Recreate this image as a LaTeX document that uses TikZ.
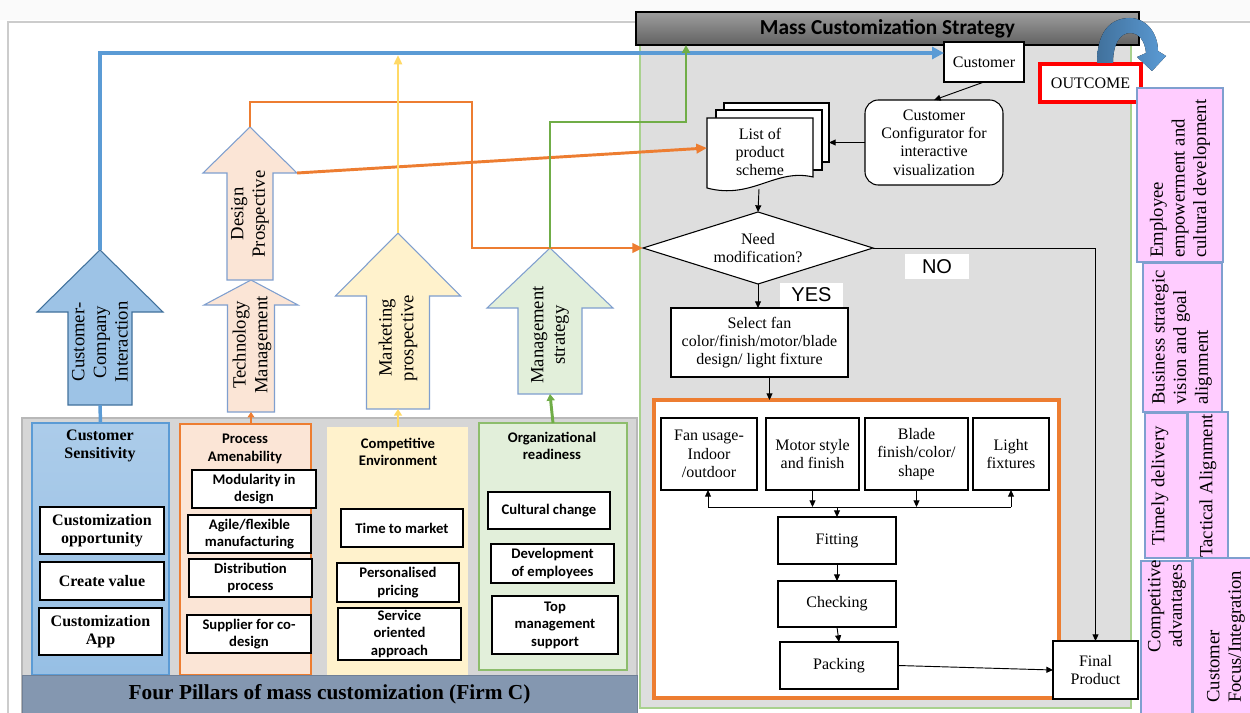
\documentclass[tikz,border=0pt]{standalone}
\usepackage{fontspec}
\setmainfont{Liberation Serif}
\newfontfamily\calib{Carlito}
\newfontfamily\arialf{Liberation Sans}
\usetikzlibrary{arrows.meta,calc}

\definecolor{cBlue}{HTML}{5B9BD5}
\definecolor{cBlueDk}{HTML}{41719C}
\definecolor{cOrange}{HTML}{ED7D31}
\definecolor{cYellow}{HTML}{FFD966}
\definecolor{cGreen}{HTML}{70AD47}
\definecolor{cGreenLt}{HTML}{A9D18E}
\definecolor{fBlue}{HTML}{9DC3E6}
\definecolor{fPeach}{HTML}{FBE5D6}
\definecolor{fCream}{HTML}{FFF2CC}
\definecolor{fMint}{HTML}{E2EFDA}
\definecolor{fPink}{HTML}{FFCCFF}
\definecolor{eSlate}{HTML}{7F9FCF}
\definecolor{panelR}{HTML}{DEDEDE}
\definecolor{panelL}{HTML}{D6D6D6}
\definecolor{bandC}{HTML}{8497B0}
\definecolor{cRed}{HTML}{FF0000}

\newcommand\fTimes{\fontsize{12}{13.8}\selectfont}
\newcommand\fTimesL{\fontsize{14}{16.2}\selectfont}
\newcommand\fTimesB{\bfseries\fontsize{12}{13.6}\selectfont}
\newcommand\fCal{\calib\bfseries\fontsize{11}{13.2}\selectfont}

% rectangle node from its corners (pixel grid): [style]{name}{x1}{y1}{x2}{y2}{text}
\newcommand\rbox[7][]{\node[#1, minimum width={(#5-#3)*0.75pt}, minimum height={(#6-#4)*0.75pt}] (#2) at ({(#3+#5)/2},{(#4+#6)/2}) {#7};}
% upward block arrow: {style}{cx}{shaft half width}{head half width}{tip y}{head base y}{bottom y}
\newcommand\blockup[7]{\draw[#1] ({#2-#3},#7) -- ({#2-#3},#6) -- ({#2-#4},#6) -- (#2,#5) -- ({#2+#4},#6) -- ({#2+#3},#6) -- ({#2+#3},#7) -- cycle;}

\begin{document}
\begin{tikzpicture}[x=0.75pt,y=-0.75pt,
  box/.style={draw=black, fill=white, line width=0.9pt, align=center, inner sep=1pt, outer sep=0pt},
  plain/.style={inner sep=0pt, outer sep=0pt, align=center},
  flow/.style={draw=black, line width=0.7pt, -{Triangle[length=5pt,width=4.5pt]}},
  flowline/.style={draw=black, line width=0.7pt},
  bluec/.style={draw=cBlue, line width=2.6pt},
  orangec/.style={draw=cOrange, line width=2.2pt},
  yellowc/.style={draw=cYellow, line width=2pt},
  greenc/.style={draw=cGreen, line width=2.2pt},
  pinkbox/.style={draw=eSlate, fill=fPink, line width=0.8pt, outer sep=0pt},
  rtext/.style={rotate=90, align=center, font=\fTimesL, inner sep=0pt},
  pillar/.style={line width=0.9pt, outer sep=0pt},
  ptitle/.style={align=center, inner sep=0pt},
  cbox/.style={box, font=\fCal},
  tbox/.style={box, font=\fTimesB},
  fbox/.style={box, font=\fTimes, line width=0.8pt},
  lbl/.style={fill=white, font=\arialf\fontsize{15}{16}\selectfont, inner sep=0pt, outer sep=0pt}
]
\useasboundingbox (0,0) rectangle (1250,713);
\clip (0,0) rectangle (1250,713);

% page background and frame
\fill[white] (0,0) rectangle (1250,713);
\fill[black!2] (0,0) rectangle (1250,20);
\draw[black!20, line width=0.8pt] (8,713) -- (8,22) -- (1250,22);

% ---------------- strategy panel ----------------
\rbox[fill=panelR, draw=cGreenLt, line width=1pt, outer sep=0pt]{mcs}{640}{45}{1131}{708}{}
\rbox[draw=black, line width=0.9pt, top color=black!38, bottom color=black!62, outer sep=0pt,
      font=\calib\bfseries\fontsize{16}{18}\selectfont]{hdr}{636}{12}{1139}{45}{Mass Customization Strategy}

% ---------------- pillars panel ----------------
\rbox[fill=panelL, draw=black!28, line width=0.9pt, outer sep=0pt]{pillars}{22}{418}{637}{713}{}
\rbox[pillar, draw=cBlue, top color=fBlue!85!white, bottom color=fBlue!90!cBlue]{cs}{32}{423}{169}{675}{}
\rbox[pillar, draw=cOrange, fill=fPeach]{pa}{180}{424}{311}{675}{}
\rbox[pillar, draw=none, fill=fCream]{ce}{327}{427}{468}{675}{}
\rbox[pillar, draw=cGreen!80, fill=fMint]{org}{479}{423}{627}{670}{}
\rbox[fill=bandC, draw=bandC!85!black, line width=0.6pt, outer sep=0pt,
      font=\bfseries\fontsize{16}{18}\selectfont]{band}{22}{675}{637}{713}{Four Pillars of mass customization (Firm C)}

\node[ptitle, font=\fTimesB] (csT) at (100,446) {Customer\\Sensitivity};
\node[ptitle, font=\fCal] (paT) at (245,449) {Process\\Amenability};
\node[ptitle, font=\fCal] (ceT) at (398,452) {Competitive\\Environment};
\node[ptitle, font=\fCal] (orgT) at (552,446) {Organizational\\readiness};

\rbox[tbox]{cs1}{40}{507}{164}{554}{Customization\\opportunity}
\rbox[tbox]{cs2}{40}{562}{164}{600}{Create value}
\rbox[tbox]{cs3}{39}{608}{162}{655}{Customization\\App}

\rbox[cbox]{pa1}{192}{470}{316}{508}{Modularity in\\design}
\rbox[cbox]{pa2}{188}{515}{311}{553}{Agile/flexible\\manufacturing}
\rbox[cbox]{pa3}{189}{559}{312}{597}{Distribution\\process}
\rbox[cbox]{pa4}{187}{615}{311}{653}{Supplier for co-\\design}

\rbox[cbox]{ce1}{341}{509}{463}{547}{Time to market}
\rbox[cbox]{ce2}{337}{563}{459}{602}{Personalised\\pricing}
\rbox[cbox]{ce3}{338}{608}{461}{660}{Service\\oriented\\approach}

\rbox[cbox]{or1}{488}{492}{610}{529}{Cultural change}
\rbox[cbox]{or2}{491}{544}{614}{583}{Development\\of employees}
\rbox[cbox]{or3}{492}{596}{618}{654}{Top\\management\\support}

% ---------------- block arrows ----------------
\blockup{draw=cBlueDk, fill=fBlue, line width=0.8pt}{100}{32}{63}{250}{312}{405}
\blockup{draw=eSlate, fill=fPeach, line width=0.8pt}{251}{23.5}{47}{280}{305}{412}
\blockup{draw=eSlate, fill=fPeach, line width=0.8pt}{250}{23}{47}{127}{173}{280}
\blockup{draw=eSlate, fill=fCream, line width=0.8pt}{398}{31.5}{62.5}{233}{296}{409}
\blockup{draw=eSlate, fill=fMint, line width=0.8pt}{550}{32}{63}{248}{308}{394}

\node[rtext] (cci) at (100,342) {Customer-\\Company\\Interaction};
\node[rtext] (tech) at (252,345) {Technology\\Management};
\node[rtext] (dsg) at (250,214) {Design\\Prospective};
\node[rtext] (mkt) at (398,338) {Marketing\\prospective};
\node[rtext] (mgs) at (550,335) {Management\\strategy};

\coordinate (ccTip) at (100,250);  \coordinate (ccBot) at (100,405);
\coordinate (tBot) at (251,412);
\coordinate (dTip) at (250,127);   \coordinate (dWing) at (297,173);
\coordinate (mTip) at (398,233);   \coordinate (mBot) at (398,409);
\coordinate (gTip) at (550,248);   \coordinate (gBot) at (550,394);

% ---------------- flow chart ----------------
\rbox[fbox]{cust}{944}{42}{1024}{82}{Customer}
\rbox[fbox, rounded corners=10pt]{conf}{865}{100}{1003}{185}{Customer\\Configurator for\\interactive\\visualization}

% stacked documents
\rbox[fbox]{list3}{724}{103}{829}{162}{}
\rbox[fbox]{list2}{716}{110}{822}{170}{}
\draw[fill=white, line width=0.8pt] (707,118) -- (813,118) -- (813,177)
  .. controls (775,168) and (752,200) .. (707,188) -- cycle;
\node[plain, font=\fTimes] (list) at (760,152) {List of\\product\\scheme};
\coordinate (listL) at (707,148);
\coordinate (listB) at (759,189);

% decision
\draw[fill=white, line width=0.8pt] (758,212) -- (873,248) -- (758,284) -- (643,248) -- cycle;
\node[plain, font=\fTimes] (need) at (758,248) {Need\\modification?};
\coordinate (needT) at (758,212); \coordinate (needR) at (873,248);
\coordinate (needB) at (758,284); \coordinate (needL) at (643,248);

\rbox[lbl]{yes}{780}{283}{843}{307}{YES}
\rbox[lbl]{no}{905}{254}{969}{279}{NO}

\rbox[fbox]{sel}{671}{308}{848}{377}{Select fan\\color/finish/motor/blade\\design/ light fixture}

\rbox[draw=cOrange, fill=white, line width=2.3pt, outer sep=0pt]{obox}{654}{400}{1059}{698}{}
\rbox[fbox]{fan}{661}{418}{757}{490}{Fan usage-\\Indoor\\/outdoor}
\rbox[fbox]{motor}{766}{418}{859}{490}{Motor style\\and finish}
\rbox[fbox]{blade}{865}{418}{968}{490}{Blade\\finish/color/\\shape}
\rbox[fbox]{light}{973}{418}{1049}{490}{Light\\fixtures}
\rbox[fbox]{fit}{778}{517}{896}{564}{Fitting}
\rbox[fbox]{chk}{778}{581}{896}{627}{Checking}
\rbox[fbox]{pack}{780}{642}{898}{689}{Packing}
\rbox[fbox]{fin}{1053}{641}{1138}{699}{Final\\Product}

\coordinate (bus1) at (708,507);
\coordinate (bus4) at (1011,507);
\draw[flowline] (bus1) -- (bus4);
\draw[flow] (bus1) -- (bus1 |- fan.south);
\draw[flow] (bus4) -- (bus4 |- light.south);
\draw[flow] (motor.south) -- (motor.south |- bus1);
\draw[flow] (blade.south) -- (blade.south |- bus1);
\draw[flow] (fit.north |- bus1) -- (fit.north);
\draw[flow] (fit.south) -- (chk.north);
\draw[flow] (chk.south) -- (pack.north);
\draw[flow] (pack.east) -- (fin.west);
\draw[flow] (needR) -| (fin.north);
\draw[flow] (needB) -- (needB |- sel.north);
\draw[flow] ([xshift=7.5pt]sel.south) -- ([xshift=7.5pt]sel.south |- obox.north);
\draw[flow] (listB) -- (needT);
\draw[flow] (conf.west) -- (conf.west -| list3.east);
\draw[flow] (cust.south) -- (conf.north);

% ---------------- outcome ----------------
\rbox[draw=cRed, fill=white, line width=2.3pt, font=\fTimes, outer sep=0pt]{outc}{1040}{64}{1141}{102}{OUTCOME}
\fill[left color=cBlueDk, right color=cBlue]
  (1097,63) .. controls (1097,32) and (1110,18) .. (1130,18)
  .. controls (1146,18) and (1158,33) .. (1158,51)
  -- (1166,56) -- (1152,71) -- (1137,57) -- (1146,53)
  .. controls (1145,41) and (1139,33) .. (1130,33)
  .. controls (1120,33) and (1113,44) .. (1113,63) -- cycle;

\rbox[pinkbox]{emp}{1137}{88}{1223}{262}{}
\rbox[pinkbox]{bsv}{1143}{263}{1222}{412}{}
\rbox[pinkbox]{tim}{1145}{413}{1187}{558}{}
\rbox[pinkbox]{tac}{1188}{412}{1228}{558}{}
\rbox[pinkbox]{cad}{1141}{561}{1192}{720}{}
\rbox[pinkbox]{cfi}{1193}{558}{1252}{720}{}
\node[rtext, align=left, anchor=west] (empT) at (1180,258) {Employee\\empowerment and\\cultural development};
\node[rtext, align=left, anchor=west] (bsvT) at (1182,405) {Business strategic\\vision and goal\\alignment};
\node[rtext] (timT) at (1160,486) {Timely delivery};
\node[rtext] (tacT) at (1208,486) {Tactical Alignment};
\node[rtext] (cadT) at (1167,606) {Competitive\\advantages};
\node[rtext, align=left, anchor=west] (cfiT) at (1226,703) {Customer\\Focus/Integration};

% ---------------- coloured connectors ----------------
\draw[bluec] (cs.north) -- (ccBot);
\coordinate (custIn) at (944,53);
\draw[bluec, -{Triangle[length=9pt,width=9pt]}] (ccTip) |- (custIn);

\draw[orangec, -{Triangle[length=4pt,width=5pt]}] (tBot |- pa.north) -- (tBot);
\coordinate (oc1) at (472,102);
\draw[orangec, -{Triangle[length=8pt,width=7pt]}] (dTip) |- (oc1) |- (needL);
\draw[orangec, -{Triangle[length=8pt,width=7pt]}] (dWing) -- (listL);

\draw[yellowc, -{Triangle[length=5pt,width=6pt]}] (mBot |- ce.north) -- (mBot);
\coordinate (yc1) at (398,55);
\draw[yellowc, -{Triangle[length=7pt,width=6pt]}] (mTip) -- (yc1);

\draw[greenc, -{Triangle[length=5pt,width=6pt]}] (org.north) -- (gBot);
\coordinate (gc1) at (686,122);
\draw[greenc, -{Triangle[length=6pt,width=6pt]}] (gTip) |- (gc1) -- (gc1 |- hdr.south);

\end{tikzpicture}
\end{document}
